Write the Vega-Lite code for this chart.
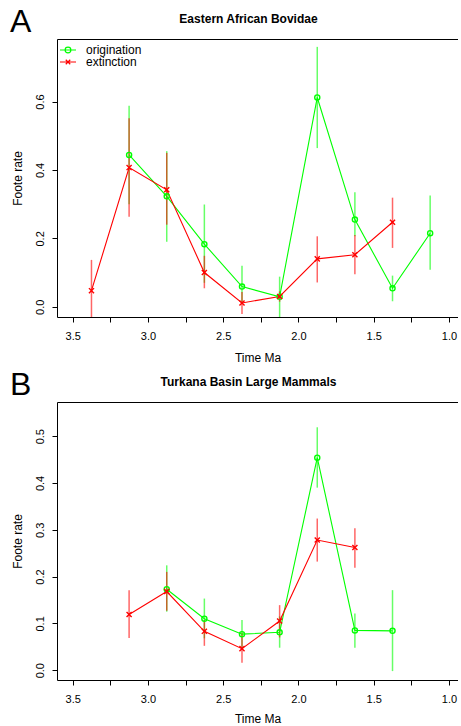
{
  "$schema": "https://vega.github.io/schema/vega-lite/v6.json",
  "padding": {"left": 10, "top": 6, "right": 0, "bottom": 0},
  "background": "white",
  "spacing": 6,
  "config": {
    "font": "Liberation Sans",
    "view": {"stroke": null},
    "axis": {"domainColor": "black", "tickColor": "black", "labelColor": "black", "titleColor": "black", "grid": false, "tickSize": 5, "labelFontSize": 11, "titleFontSize": 12, "titleFontWeight": "normal", "domainWidth": 1, "tickWidth": 1, "labelFont": "Liberation Sans", "titleFont": "Liberation Sans"},
    "legend": {"labelFont": "Liberation Sans", "labelFontSize": 12, "labelColor": "black", "title": null, "orient": "top-left", "offset": 5, "padding": 0, "symbolSize": 64, "symbolStrokeWidth": 1.2, "symbolOpacity": 1, "symbolFillColor": "transparent", "labelOffset": 12, "rowPadding": 0}
  },
  "datasets": {
    "a": [
      {"type": "origination", "time": 3.125, "rate": 0.444, "lo": 0.30, "hi": 0.588},
      {"type": "origination", "time": 2.875, "rate": 0.323, "lo": 0.190, "hi": 0.455},
      {"type": "origination", "time": 2.625, "rate": 0.183, "lo": 0.07, "hi": 0.299},
      {"type": "origination", "time": 2.375, "rate": 0.059, "lo": 0.014, "hi": 0.12},
      {"type": "origination", "time": 2.125, "rate": 0.029, "lo": -0.05, "hi": 0.088},
      {"type": "origination", "time": 1.875, "rate": 0.612, "lo": 0.464, "hi": 0.760},
      {"type": "origination", "time": 1.625, "rate": 0.255, "lo": 0.206, "hi": 0.335},
      {"type": "origination", "time": 1.375, "rate": 0.054, "lo": 0.016, "hi": 0.091},
      {"type": "origination", "time": 1.125, "rate": 0.215, "lo": 0.108, "hi": 0.325},
      {"type": "extinction", "time": 3.375, "rate": 0.047, "lo": -0.05, "hi": 0.137},
      {"type": "extinction", "time": 3.125, "rate": 0.407, "lo": 0.263, "hi": 0.551},
      {"type": "extinction", "time": 2.875, "rate": 0.342, "lo": 0.24, "hi": 0.45},
      {"type": "extinction", "time": 2.625, "rate": 0.10, "lo": 0.054, "hi": 0.149},
      {"type": "extinction", "time": 2.375, "rate": 0.011, "lo": -0.021, "hi": 0.043},
      {"type": "extinction", "time": 2.125, "rate": 0.03, "lo": 0.015, "hi": 0.045},
      {"type": "extinction", "time": 1.875, "rate": 0.140, "lo": 0.071, "hi": 0.206},
      {"type": "extinction", "time": 1.625, "rate": 0.152, "lo": 0.095, "hi": 0.21},
      {"type": "extinction", "time": 1.375, "rate": 0.247, "lo": 0.172, "hi": 0.319}
    ],
    "b": [
      {"type": "origination", "time": 2.875, "rate": 0.173, "lo": 0.125, "hi": 0.224},
      {"type": "origination", "time": 2.625, "rate": 0.110, "lo": 0.068, "hi": 0.153},
      {"type": "origination", "time": 2.375, "rate": 0.077, "lo": 0.046, "hi": 0.107},
      {"type": "origination", "time": 2.125, "rate": 0.081, "lo": 0.048, "hi": 0.115},
      {"type": "origination", "time": 1.875, "rate": 0.454, "lo": 0.390, "hi": 0.519},
      {"type": "origination", "time": 1.625, "rate": 0.085, "lo": 0.048, "hi": 0.121},
      {"type": "origination", "time": 1.375, "rate": 0.084, "lo": -0.002, "hi": 0.171},
      {"type": "extinction", "time": 3.125, "rate": 0.119, "lo": 0.069, "hi": 0.171},
      {"type": "extinction", "time": 2.875, "rate": 0.168, "lo": 0.127, "hi": 0.21},
      {"type": "extinction", "time": 2.625, "rate": 0.083, "lo": 0.052, "hi": 0.107},
      {"type": "extinction", "time": 2.375, "rate": 0.046, "lo": 0.016, "hi": 0.08},
      {"type": "extinction", "time": 2.125, "rate": 0.105, "lo": 0.07, "hi": 0.139},
      {"type": "extinction", "time": 1.875, "rate": 0.278, "lo": 0.232, "hi": 0.324},
      {"type": "extinction", "time": 1.625, "rate": 0.262, "lo": 0.219, "hi": 0.303}
    ]
  },
  "vconcat": [
    {
      "width": 401, "height": 278,
      "title": {"text": "A", "anchor": "start", "frame": "group", "fontSize": 32, "fontWeight": "normal", "font": "Liberation Sans", "color": "black", "dx": -47, "dy": 27, "offset": 0},
      "data": {"name": "a"},
      "resolve": {"axis": {"x": "independent"}},
      "layer": [
        {
          "mark": {"type": "rule", "strokeWidth": 1.5, "opacity": 0.6, "clip": true},
          "encoding": {
            "x": {"field": "time", "type": "quantitative", "scale": {"domain": [0.94, 3.604], "reverse": true, "nice": false, "zero": false},
              "axis": {"orient": "bottom", "values": [1, 1.25, 1.5, 1.75, 2, 2.25, 2.5, 2.75, 3, 3.25, 3.5], "labelExpr": "round(datum.value*4)%2==0 ? format(datum.value,'.1f') : ''", "labelFlush": false, "labelOverlap": false, "labelPadding": 8, "title": "Time Ma", "titlePadding": 11}},
            "y": {"field": "lo", "type": "quantitative", "scale": {"domain": [-0.03, 0.783], "nice": false, "zero": false},
              "axis": {"values": [0, 0.1, 0.2, 0.3, 0.4, 0.5, 0.6, 0.7], "labelExpr": "round(datum.value*10)%2==0 ? format(datum.value,'.1f') : ''", "labelAngle": -90, "labelAlign": "center", "labelBaseline": "bottom", "labelOverlap": false, "labelPadding": 7, "title": "Foote rate", "titlePadding": 10}},
            "y2": {"field": "hi"},
            "color": {"field": "type", "type": "nominal", "scale": {"domain": ["origination", "extinction"], "range": ["#00ff00", "#ff0000"]}}
          }
        },
        {
          "mark": {"type": "line", "strokeWidth": 1.1},
          "encoding": {
            "x": {"field": "time", "type": "quantitative", "axis": {"orient": "top", "labels": false, "ticks": false, "domain": true, "title": "Eastern African Bovidae", "titleFontWeight": "bold", "titleFontSize": 12, "titlePadding": 14, "titleX": 191}},
            "y": {"field": "rate", "type": "quantitative", "title": "Foote rate"},
            "color": {"field": "type", "type": "nominal"}
          }
        },
        {
          "mark": {"type": "point", "filled": false, "opacity": 0, "size": 1},
          "encoding": {
            "x": {"field": "time", "type": "quantitative", "axis": null},
            "y": {"field": "rate", "type": "quantitative", "title": "Foote rate"},
            "color": {"field": "type", "type": "nominal"},
            "shape": {"field": "type", "type": "nominal", "scale": {"domain": ["origination", "extinction"], "range": ["M-2,0L2,0M-0.72,0A0.72,0.72,0,1,1,0.72,0A0.72,0.72,0,1,1,-0.72,0", "M-2,0L2,0M-0.56,-0.56L0.56,0.56M-0.56,0.56L0.56,-0.56"]}}
          }
        },
        {
          "transform": [{"filter": "datum.type === 'origination'"}],
          "mark": {"type": "point", "shape": "circle", "filled": false, "strokeWidth": 1.4, "size": 26, "opacity": 1},
          "encoding": {
            "x": {"field": "time", "type": "quantitative", "axis": null},
            "y": {"field": "rate", "type": "quantitative", "title": "Foote rate"},
            "color": {"field": "type", "type": "nominal"}
          }
        },
        {
          "transform": [{"filter": "datum.type === 'extinction'"}],
          "mark": {"type": "point", "shape": "M-1,-1L1,1M-1,1L1,-1", "filled": false, "strokeWidth": 1.4, "size": 26, "opacity": 1},
          "encoding": {
            "x": {"field": "time", "type": "quantitative", "axis": null},
            "y": {"field": "rate", "type": "quantitative", "title": "Foote rate"},
            "color": {"field": "type", "type": "nominal"}
          }
        }
      ]
    },
    {
      "width": 401, "height": 278,
      "title": {"text": "B", "anchor": "start", "frame": "group", "fontSize": 32, "fontWeight": "normal", "font": "Liberation Sans", "color": "black", "dx": -47, "dy": 27, "offset": 0},
      "data": {"name": "b"},
      "resolve": {"axis": {"x": "independent"}},
      "layer": [
        {
          "mark": {"type": "rule", "strokeWidth": 1.5, "opacity": 0.6, "clip": true},
          "encoding": {
            "x": {"field": "time", "type": "quantitative", "scale": {"domain": [0.94, 3.604], "reverse": true, "nice": false, "zero": false},
              "axis": {"orient": "bottom", "values": [1, 1.25, 1.5, 1.75, 2, 2.25, 2.5, 2.75, 3, 3.25, 3.5], "labelExpr": "round(datum.value*4)%2==0 ? format(datum.value,'.1f') : ''", "labelFlush": false, "labelOverlap": false, "labelPadding": 8, "title": "Time Ma", "titlePadding": 9}},
            "y": {"field": "lo", "type": "quantitative", "scale": {"domain": [-0.021, 0.573], "nice": false, "zero": false},
              "axis": {"values": [0, 0.05, 0.1, 0.15, 0.2, 0.25, 0.3, 0.35, 0.4, 0.45, 0.5, 0.55], "labelExpr": "round(datum.value*20)%2==0 ? format(datum.value,'.1f') : ''", "labelAngle": -90, "labelAlign": "center", "labelBaseline": "bottom", "labelOverlap": false, "labelPadding": 7, "title": "Foote rate", "titlePadding": 10}},
            "y2": {"field": "hi"},
            "color": {"field": "type", "type": "nominal", "scale": {"domain": ["origination", "extinction"], "range": ["#00ff00", "#ff0000"]}}
          }
        },
        {
          "mark": {"type": "line", "strokeWidth": 1.1},
          "encoding": {
            "x": {"field": "time", "type": "quantitative", "axis": {"orient": "top", "labels": false, "ticks": false, "domain": true, "title": "Turkana Basin Large Mammals", "titleFontWeight": "bold", "titleFontSize": 12, "titlePadding": 14, "titleX": 191}},
            "y": {"field": "rate", "type": "quantitative", "title": "Foote rate"},
            "color": {"field": "type", "type": "nominal"}
          }
        },
        {
          "mark": {"type": "point", "filled": false, "opacity": 0, "size": 1},
          "encoding": {
            "x": {"field": "time", "type": "quantitative", "axis": null},
            "y": {"field": "rate", "type": "quantitative", "title": "Foote rate"},
            "color": {"field": "type", "type": "nominal"},
            "shape": {"field": "type", "type": "nominal", "scale": {"domain": ["origination", "extinction"], "range": ["M-2,0L2,0M-0.72,0A0.72,0.72,0,1,1,0.72,0A0.72,0.72,0,1,1,-0.72,0", "M-2,0L2,0M-0.56,-0.56L0.56,0.56M-0.56,0.56L0.56,-0.56"]}}
          }
        },
        {
          "transform": [{"filter": "datum.type === 'origination'"}],
          "mark": {"type": "point", "shape": "circle", "filled": false, "strokeWidth": 1.4, "size": 26, "opacity": 1},
          "encoding": {
            "x": {"field": "time", "type": "quantitative", "axis": null},
            "y": {"field": "rate", "type": "quantitative", "title": "Foote rate"},
            "color": {"field": "type", "type": "nominal"}
          }
        },
        {
          "transform": [{"filter": "datum.type === 'extinction'"}],
          "mark": {"type": "point", "shape": "M-1,-1L1,1M-1,1L1,-1", "filled": false, "strokeWidth": 1.4, "size": 26, "opacity": 1},
          "encoding": {
            "x": {"field": "time", "type": "quantitative", "axis": null},
            "y": {"field": "rate", "type": "quantitative", "title": "Foote rate"},
            "color": {"field": "type", "type": "nominal"}
          }
        }
      ]
    }
  ]
}
